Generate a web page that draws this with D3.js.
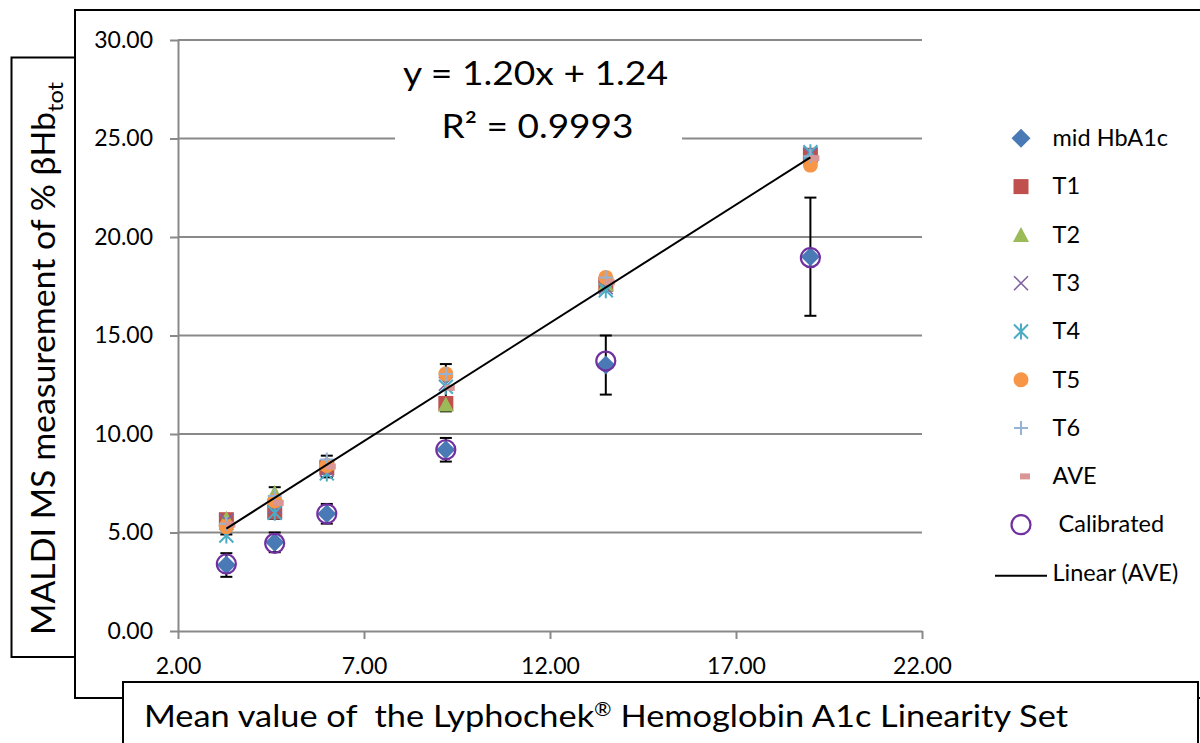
<!DOCTYPE html>
<html><head><meta charset="utf-8">
<script src="https://cdn.jsdelivr.net/npm/d3@7"></script>
<style>
body{margin:0;background:#fff}
svg{display:block}
text{font-family:Lato,"Open Sans",sans-serif;fill:#000}
</style>
</head><body>
<svg id="chart" width="1200" height="743"></svg>
<script>
// ---------------- data ----------------
const xValues      = [3.3, 4.6, 6.0, 9.2, 13.5, 19.0];
const midHbA1c     = [3.35, 4.5, 5.95, 9.2, 13.5, 19.0];
const midHbA1cErr  = [0.6, 0.5, 0.5, 0.6, 1.5, 3.0];
const T1           = [5.65, 6.05, 8.3, 11.55, 17.6, 24.15];
const T2           = [5.7, 7.0, 8.5, 11.5, 17.6, 24.1];
const T3           = [5.6, 6.3, 8.2, 12.55, 17.45, 24.2];
const T4           = [4.85, 6.0, 8.0, 12.4, 17.3, 24.3];
const T5           = [5.3, 6.6, 8.4, 13.05, 17.95, 23.65];
const T6           = [5.45, 6.85, 8.7, 13.05, 17.95, 24.1];
const AVE          = [5.4, 6.5, 8.35, 12.35, 17.7, 24.0];
const AVEErr       = [0.5, 0.8, 0.55, 1.2, 0.3, 0.3];
const calibrated   = [3.4, 4.45, 5.95, 9.2, 13.7, 18.95];
const trendSlope = 1.20, trendIntercept = 1.24;
const xTicks = [2, 7, 12, 17, 22];
const yTicks = [0, 5, 10, 15, 20, 25, 30];
const legendLabels = ["mid HbA1c","T1","T2","T3","T4","T5","T6","AVE"," Calibrated","Linear (AVE)"];
const equationLines = ["y = 1.20x + 1.24", "R² = 0.9993"];
const xTitleParts = ["Mean value of  the Lyphochek", "®", " Hemoglobin A1c Linearity Set"];
const yTitle = "MALDI MS measurement of % βHb";
const yTitleSub = "tot";

// ---------------- setup ----------------
const svg = d3.select("#chart");
const x = d3.scaleLinear().domain([2, 22]).range([178, 922]);
const y = d3.scaleLinear().domain([0, 30]).range([631, 40]);
const GRID = "#898989";

// outer frame
svg.append("rect").attr("x",75).attr("y",10).attr("width",1135).attr("height",688)
  .attr("fill","none").attr("stroke","#000").attr("stroke-width",2);

// gridlines
svg.append("g").selectAll("line").data(yTicks.filter(d=>d>0)).join("line")
  .attr("x1",x(2)).attr("x2",x(22)).attr("y1",d=>y(d)).attr("y2",d=>y(d))
  .attr("stroke",GRID).attr("stroke-width",2);

// axes
const yAxis = svg.append("g").attr("transform",`translate(${x(2)},0)`)
  .call(d3.axisLeft(y).tickValues(yTicks).tickFormat(d3.format(".2f")).tickSize(8).tickPadding(17).tickSizeOuter(0));
const xAxis = svg.append("g").attr("transform",`translate(0,${y(0)})`)
  .call(d3.axisBottom(x).tickValues(xTicks).tickFormat(d3.format(".2f")).tickSize(8).tickPadding(19).tickSizeOuter(0));
[yAxis,xAxis].forEach(a=>{
  a.select(".domain").attr("stroke",GRID).attr("stroke-width",2);
  a.selectAll(".tick line").attr("stroke",GRID).attr("stroke-width",2);
  a.selectAll("text").attr("font-size",23).attr("font-family","Lato").attr("fill","#000");
});

// equation label
svg.append("rect").attr("x",395).attr("y",48).attr("width",287).attr("height",100).attr("fill","#fff");
svg.append("text").attr("x",535.5).attr("y",85).attr("text-anchor","middle").attr("font-size",33)
  .attr("textLength",265).attr("lengthAdjust","spacingAndGlyphs").text(equationLines[0]);
svg.append("text").attr("x",537.5).attr("y",138).attr("text-anchor","middle").attr("font-size",33)
  .attr("textLength",192).attr("lengthAdjust","spacingAndGlyphs").text(equationLines[1]);

// ---------------- markers ----------------
const shapes = {
  diamond: g => g.append("path").attr("d","M0,-9.5L9.5,0L0,9.5L-9.5,0Z").attr("fill","#4A7AB6"),
  square: g => g.append("rect").attr("x",-7.5).attr("y",-7.5).attr("width",15).attr("height",15).attr("fill","#C0504D"),
  triangle: g => g.append("path").attr("d","M0,-8L8,7L-8,7Z").attr("fill","#9BBB59"),
  cross: g => g.append("path").attr("d","M-7,-7L7,7M-7,7L7,-7").attr("stroke","#8064A2").attr("stroke-width",1.6).attr("fill","none"),
  star: g => g.append("path").attr("d","M-7,-7L7,7M-7,7L7,-7M0,-8L0,8").attr("stroke","#4BACC6").attr("stroke-width",2).attr("fill","none"),
  circle: g => g.append("circle").attr("r",7.5).attr("fill","#F79646"),
  plus: g => g.append("path").attr("d","M-7,0L7,0M0,-7L0,7").attr("stroke","#95B3D7").attr("stroke-width",2).attr("fill","none"),
  dash: g => g.append("rect").attr("x",-1).attr("y",-3).attr("width",10).attr("height",6).attr("fill","#D99694"),
  ring: g => g.append("circle").attr("r",9.5).attr("fill","none").attr("stroke","#7030A0").attr("stroke-width",2.2)
};

const series = [
  {vals: midHbA1c, shape: "diamond"},
  {vals: T1, shape: "square"},
  {vals: T2, shape: "triangle"},
  {vals: T3, shape: "cross"},
  {vals: T4, shape: "star"},
  {vals: T5, shape: "circle"},
  {vals: T6, shape: "plus"},
  {vals: AVE, shape: "dash"},
  {vals: calibrated, shape: "ring"}
];

// error bars (drawn beneath markers)
const errG = svg.append("g").attr("stroke","#000").attr("stroke-width",2);
[[midHbA1c, midHbA1cErr],[AVE, AVEErr]].forEach(([vals, errs])=>{
  vals.forEach((v,i)=>{
    const cx = x(xValues[i]), y1 = y(v+errs[i]), y2 = y(v-errs[i]);
    errG.append("line").attr("x1",cx).attr("x2",cx).attr("y1",y1).attr("y2",y2);
    errG.append("line").attr("x1",cx-6).attr("x2",cx+6).attr("y1",y1).attr("y2",y1);
    errG.append("line").attr("x1",cx-6).attr("x2",cx+6).attr("y1",y2).attr("y2",y2);
  });
});

// markers
series.forEach(s=>{
  s.vals.forEach((v,i)=>{
    const g = svg.append("g").attr("transform",`translate(${x(xValues[i])},${y(v)})`);
    shapes[s.shape](g);
  });
});

// trendline
const xMin = d3.min(xValues), xMax = d3.max(xValues);
svg.append("line")
  .attr("x1",x(xMin)).attr("y1",y(trendSlope*xMin+trendIntercept))
  .attr("x2",x(xMax)).attr("y2",y(trendSlope*xMax+trendIntercept))
  .attr("stroke","#000").attr("stroke-width",2);

// ---------------- legend ----------------
const legendShapes = ["diamond","square","triangle","cross","star","circle","plus","dash","ring"];
const lg = svg.append("g");
legendLabels.forEach((lab,i)=>{
  const base = 146 + i*48.3;
  if (i < legendShapes.length) {
    const g = lg.append("g").attr("transform",`translate(1021,${base-7.7})`);
    shapes[legendShapes[i]](g);
  } else {
    lg.append("line").attr("x1",995).attr("x2",1047).attr("y1",base-5).attr("y2",base-5)
      .attr("stroke","#000").attr("stroke-width",2);
  }
  lg.append("text").attr("x",1052.5).attr("y",base).attr("font-size",23.5)
    .style("white-space","pre").text(lab);
});

// ---------------- axis title boxes ----------------
svg.append("rect").attr("x",11.5).attr("y",57.5).attr("width",63.5).attr("height",599.5)
  .attr("fill","#fff").attr("stroke","#000").attr("stroke-width",2);
svg.append("rect").attr("x",123).attr("y",682).attr("width",1075).attr("height",70)
  .attr("fill","#fff").attr("stroke","#000").attr("stroke-width",2);

const xt = svg.append("text").attr("x",144).attr("y",727).attr("font-size",31)
  .attr("textLength",924).attr("lengthAdjust","spacingAndGlyphs").style("white-space","pre");
xt.append("tspan").text(xTitleParts[0]);
xt.append("tspan").attr("font-size",19).attr("dy",-11).text(xTitleParts[1]);
xt.append("tspan").attr("dy",11).text(xTitleParts[2]);

svg.append("text").attr("transform","translate(55,635) rotate(-90)").attr("font-size",32)
  .attr("textLength",523).attr("lengthAdjust","spacingAndGlyphs").text(yTitle);
svg.append("text").attr("transform","translate(63,112) rotate(-90)").attr("font-size",21)
  .attr("textLength",30).attr("lengthAdjust","spacingAndGlyphs").text(yTitleSub);
</script>
</body></html>
